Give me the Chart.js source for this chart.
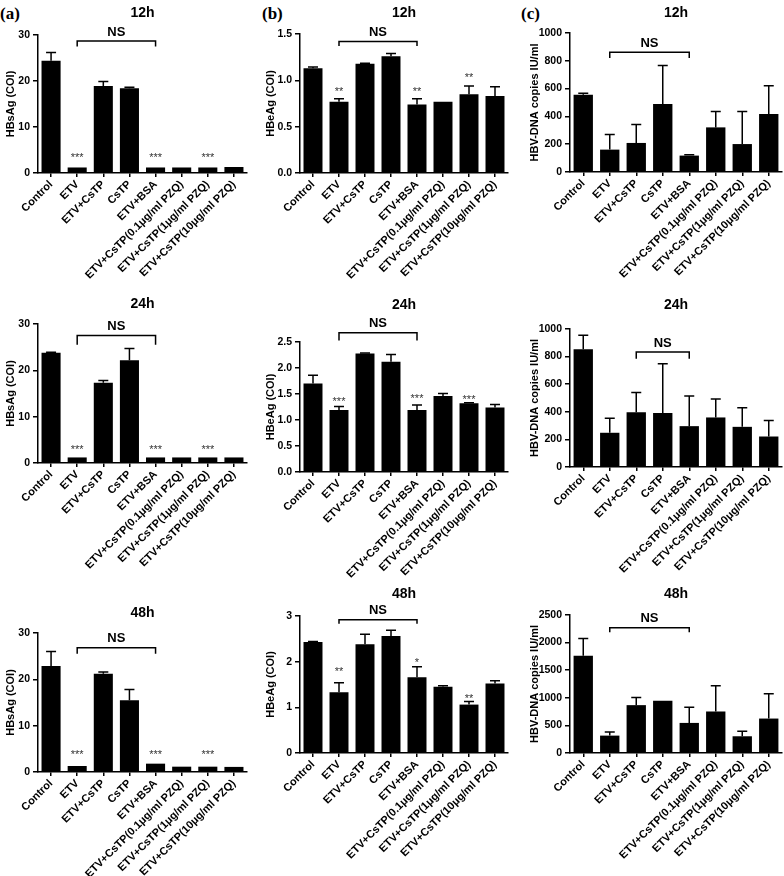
<!DOCTYPE html>
<html lang="en">
<head>
<meta charset="UTF-8">
<title>HBsAg / HBeAg / HBV-DNA</title>
<script src="https://cdn.jsdelivr.net/npm/chart.js@4.4.0/dist/chart.umd.min.js"></script>
<style>
  body { margin: 0; background: #fff; }
  #page { position: relative; width: 784px; height: 876px; overflow: hidden; }
  #page canvas { position: absolute; }
  .tag {
    position: absolute;
    font-family: 'Liberation Serif', 'Times New Roman', serif;
    font-weight: bold;
    font-size: 17px;
    line-height: 1;
  }
</style>
</head>
<body>
<div id="page">
  <div class="tag" style="left:0;top:5px">(a)</div>
  <div class="tag" style="left:262px;top:5px">(b)</div>
  <div class="tag" style="left:521px;top:5px">(c)</div>
</div>

<script>
const groups = ['Control', 'ETV', 'ETV+CsTP', 'CsTP', 'ETV+BSA',
  'ETV+CsTP(0.1μg/ml PZQ)', 'ETV+CsTP(1μg/ml PZQ)', 'ETV+CsTP(10μg/ml PZQ)'];

// HBsAg (COI): mean, SD
const hbsag12h = [24.4, 1.2, 18.9, 18.4, 1.2, 1.2, 1.2, 1.3];
const hbsag12hSd = [1.8, 0, 1.0, 0.25, 0, 0, 0, 0];
const hbsag24h = [23.8, 1.2, 17.3, 22.2, 1.2, 1.2, 1.2, 1.2];
const hbsag24hSd = [0.1, 0, 0.5, 2.5, 0, 0, 0, 0];
const hbsag48h = [22.9, 1.3, 21.2, 15.5, 1.8, 1.15, 1.15, 1.1];
const hbsag48hSd = [3.1, 0, 0.4, 2.3, 0, 0, 0, 0];

// HBeAg (COI)
const hbeag12h = [1.13, 0.77, 1.18, 1.26, 0.74, 0.77, 0.85, 0.83];
const hbeag12hSd = [0.015, 0.03, 0.005, 0.03, 0.06, 0, 0.09, 0.10];
const hbeag24h = [1.70, 1.19, 2.28, 2.12, 1.19, 1.46, 1.32, 1.24];
const hbeag24hSd = [0.16, 0.07, 0.01, 0.14, 0.10, 0.05, 0.01, 0.06];
const hbeag48h = [2.43, 1.33, 2.38, 2.56, 1.66, 1.45, 1.06, 1.52];
const hbeag48hSd = [0.01, 0.21, 0.22, 0.13, 0.23, 0.02, 0.07, 0.06];

// HBV-DNA copies IU/ml
const dna12h = [556, 161, 209, 489, 118, 321, 201, 417];
const dna12hSd = [10, 108, 132, 278, 7, 115, 235, 204];
const dna24h = [854, 248, 396, 391, 296, 359, 291, 221];
const dna24hSd = [100, 106, 143, 357, 219, 134, 139, 116];
const dna48h = [1764, 315, 867, 945, 545, 752, 303, 624];
const dna48hSd = [309, 67, 139, 0, 285, 466, 91, 449];

// stars: [category, text, y]
const hbsag12hStars = [[1, '***', 3.8], [4, '***', 3.8], [6, '***', 3.8]];
const hbsag24hStars = [[1, '***', 3.3], [4, '***', 3.3], [6, '***', 3.3]];
const hbsag48hStars = [[1, '***', 4.0], [4, '***', 4.0], [6, '***', 4.0]];
const hbeag12hStars = [[1, '**', 0.90], [4, '**', 0.90], [6, '**', 1.05]];
const hbeag24hStars = [[1, '***', 1.39], [4, '***', 1.44], [6, '***', 1.43]];
const hbeag48hStars = [[1, '**', 1.82], [4, '*', 2.01], [6, '**', 1.23]];

// NS bracket: [from, to, line y, foot y]
const hbsag12hNs = [1, 4, 28.7, 27.5];
const hbsag24hNs = [1, 4, 27.5, 25.5];
const hbsag48hNs = [1, 4, 26.8, 25.5];
const hbeag12hNs = [1, 4, 1.42, 1.37];
const hbeag24hNs = [1, 4, 2.68, 2.53];
const hbeag48hNs = [1, 4, 2.92, 2.83];
const dna12hNs = [1, 4, 861, 820];
const dna24hNs = [2, 4, 833, 784];
const dna48hNs = [1, 4, 2267, 2188];

const FONT = "Arial, 'Liberation Sans', sans-serif";
Chart.defaults.font.family = FONT;
Chart.defaults.color = '#000';

const cols = [
  { left: 0,   width: 256, axisL: 38,  axisR: 247, yTitle: 'HBsAg (COI)', titlePad: 4 },
  { left: 258, width: 258, axisL: 300, axisR: 508, yTitle: 'HBeAg (COI)', titlePad: 6 },
  { left: 518, width: 266, axisL: 570, axisR: 782, yTitle: 'HBV-DNA copies IU/ml', titlePad: 10 }
];
const rows = [{ top: 0, height: 290 }, { top: 290, height: 290 }, { top: 580, height: 296 }];

const panels = [
  { col: 0, row: 0, name: '12h', titleY: 13,  areaT: 35,  areaB: 173, mean: hbsag12h, sd: hbsag12hSd, stars: hbsag12hStars, ns: hbsag12hNs, max: 30, step: 10, dec: 0 },
  { col: 1, row: 0, name: '12h', titleY: 13,  areaT: 34,  areaB: 173, mean: hbeag12h, sd: hbeag12hSd, stars: hbeag12hStars, ns: hbeag12hNs, max: 1.5, step: 0.5, dec: 1 },
  { col: 2, row: 0, name: '12h', titleY: 13,  areaT: 33,  areaB: 172, mean: dna12h, sd: dna12hSd, stars: [], ns: dna12hNs, max: 1000, step: 200, dec: 0 },
  { col: 0, row: 1, name: '24h', titleY: 304, areaT: 324, areaB: 463, mean: hbsag24h, sd: hbsag24hSd, stars: hbsag24hStars, ns: hbsag24hNs, max: 30, step: 10, dec: 0 },
  { col: 1, row: 1, name: '24h', titleY: 305, areaT: 342, areaB: 472, mean: hbeag24h, sd: hbeag24hSd, stars: hbeag24hStars, ns: hbeag24hNs, max: 2.5, step: 0.5, dec: 1 },
  { col: 2, row: 1, name: '24h', titleY: 305, areaT: 329, areaB: 467, mean: dna24h, sd: dna24hSd, stars: [], ns: dna24hNs, max: 1000, step: 200, dec: 0 },
  { col: 0, row: 2, name: '48h', titleY: 613, areaT: 633, areaB: 772, mean: hbsag48h, sd: hbsag48hSd, stars: hbsag48hStars, ns: hbsag48hNs, max: 30, step: 10, dec: 0 },
  { col: 1, row: 2, name: '48h', titleY: 594, areaT: 616, areaB: 753, mean: hbeag48h, sd: hbeag48hSd, stars: hbeag48hStars, ns: hbeag48hNs, max: 3, step: 1, dec: 0 },
  { col: 2, row: 2, name: '48h', titleY: 594, areaT: 615, areaB: 753, mean: dna48h, sd: dna48hSd, stars: [], ns: dna48hNs, max: 2500, step: 500, dec: 0 }
];

// error bars, stars, NS bracket and panel title
const marks = {
  id: 'marks',
  afterDatasetsDraw(chart, args, o) {
    const { ctx, chartArea } = chart;
    const xs = chart.scales.x, ys = chart.scales.y;
    const bars = chart.getDatasetMeta(0).data;
    ctx.save();
    ctx.strokeStyle = '#000';
    ctx.lineWidth = 1.5;

    bars.forEach((bar, i) => {
      const s = o.sd[i];
      if (!s) return;
      const top = ys.getPixelForValue(o.mean[i] + s);
      ctx.beginPath();
      ctx.moveTo(bar.x, bar.y);
      ctx.lineTo(bar.x, top);
      ctx.moveTo(bar.x - 5, top);
      ctx.lineTo(bar.x + 5, top);
      ctx.stroke();
    });

    ctx.fillStyle = '#333';
    ctx.font = '11px ' + FONT;
    ctx.textAlign = 'center';
    ctx.textBaseline = 'middle';
    o.stars.forEach(([i, t, v]) => {
      ctx.fillText(t, xs.getPixelForValue(i), ys.getPixelForValue(v) + 2);
    });

    const [a, b, lineV, footV] = o.ns;
    const x1 = xs.getPixelForValue(a), x2 = xs.getPixelForValue(b);
    const yl = ys.getPixelForValue(lineV), yf = ys.getPixelForValue(footV);
    ctx.beginPath();
    ctx.moveTo(x1, yf);
    ctx.lineTo(x1, yl);
    ctx.lineTo(x2, yl);
    ctx.lineTo(x2, yf);
    ctx.stroke();
    ctx.fillStyle = '#000';
    ctx.font = 'bold 13px ' + FONT;
    ctx.fillText('NS', (x1 + x2) / 2, yl - 9);

    ctx.font = 'bold 14px ' + FONT;
    ctx.fillText(o.title, (chartArea.left + chartArea.right) / 2, o.titleY);
    ctx.restore();
  }
};

const page = document.getElementById('page');

panels.forEach(p => {
  const c = cols[p.col], r = rows[p.row];
  const cv = document.createElement('canvas');
  cv.width = c.width;
  cv.height = r.height;
  cv.style.left = c.left + 'px';
  cv.style.top = r.top + 'px';
  cv.style.width = c.width + 'px';
  cv.style.height = r.height + 'px';
  page.appendChild(cv);

  const yWidth = c.axisL - c.left;
  const xHeight = r.top + r.height - p.areaB;

  new Chart(cv, {
    type: 'bar',
    data: {
      labels: groups,
      datasets: [{
        data: p.mean,
        backgroundColor: '#000',
        borderWidth: 0,
        barPercentage: 0.73,
        categoryPercentage: 1.0
      }]
    },
    options: {
      responsive: false,
      animation: false,
      events: [],
      layout: {
        padding: { left: 0, top: p.areaT - r.top, right: c.left + c.width - c.axisR, bottom: 0 }
      },
      scales: {
        x: {
          offset: true,
          grid: { offset: false, drawOnChartArea: false, drawTicks: true, tickLength: 4, color: '#000', lineWidth: 1.5 },
          border: { display: true, color: '#000', width: 1.5 },
          ticks: {
            autoSkip: false, maxRotation: 45, minRotation: 45, padding: 1,
            color: '#000', font: { size: 11, weight: 'bold' }
          },
          afterFit: s => { s.height = xHeight; }
        },
        y: {
          min: 0,
          max: p.max,
          grid: { drawOnChartArea: false, drawTicks: true, tickLength: 5, color: '#000', lineWidth: 1.5 },
          border: { display: true, color: '#000', width: 1.5 },
          ticks: {
            stepSize: p.step, padding: 3, color: '#000',
            font: { size: 10.5, weight: 'bold' },
            callback: v => Number(v).toFixed(p.dec)
          },
          title: {
            display: true, text: c.yTitle, color: '#000',
            font: { size: 11, weight: 'bold' },
            padding: { top: c.titlePad, bottom: 2 }
          },
          afterFit: s => { s.width = yWidth; }
        }
      },
      plugins: {
        legend: { display: false },
        tooltip: { enabled: false },
        marks: {
          mean: p.mean, sd: p.sd, stars: p.stars, ns: p.ns,
          title: p.name, titleY: p.titleY - r.top
        }
      }
    },
    plugins: [marks]
  });
});
</script>
</body>
</html>
